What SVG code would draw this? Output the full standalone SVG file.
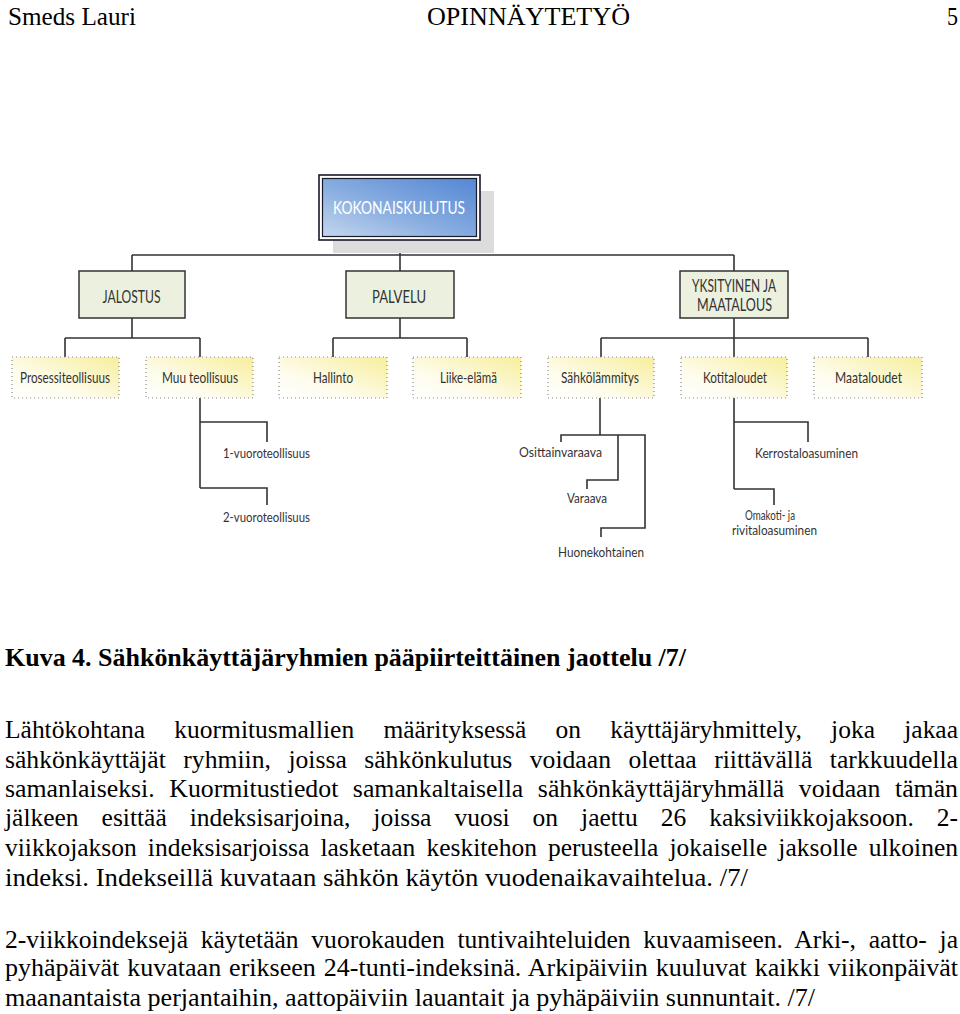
<svg xmlns="http://www.w3.org/2000/svg" width="960" height="1014" viewBox="0 0 960 1014">
<defs>
<linearGradient id="blueG" x1="0" y1="1" x2="1" y2="0">
<stop offset="0" stop-color="#c4d6ee"/>
<stop offset="0.45" stop-color="#88ade0"/>
<stop offset="1" stop-color="#5587d4"/>
</linearGradient>
<linearGradient id="yelG" x1="0" y1="1" x2="1" y2="0">
<stop offset="0" stop-color="#ffffff"/>
<stop offset="0.35" stop-color="#fefcec"/>
<stop offset="1" stop-color="#f7ee9c"/>
</linearGradient>
<style>
.doc{font-family:"Liberation Serif","Times New Roman",serif;font-size:25.5px;fill:#000}
.hd{font-size:25px}
.bold{font-weight:bold}
.lvl2{fill:#ebf1de;stroke:#333;stroke-width:1.5}
.leaf{fill:url(#yelG);stroke:#8a8a8a;stroke-width:1.2;stroke-dasharray:1 3}
.lbl{font-family:Lato,"Open Sans","Liberation Sans",sans-serif;fill:#333;text-anchor:middle}
.l2{font-size:16.5px}
.l3{font-size:15px}
.l4{font-size:14px}
.conn{fill:none;stroke:#333;stroke-width:1.6}
</style>
</defs>
<rect width="960" height="1014" fill="#fff"/>
<g id="header">
<text class="doc hd" x="8" y="25" textLength="128" lengthAdjust="spacingAndGlyphs">Smeds Lauri</text>
<text class="doc hd" x="427" y="25" textLength="203" lengthAdjust="spacingAndGlyphs">OPINNÄYTETYÖ</text>
<text class="doc hd" x="947" y="25" textLength="11" lengthAdjust="spacingAndGlyphs">5</text>
</g>
<g id="connectors">
<path class="conn" d="M400,240 V255 M132,255 H734 M132,255 V271 M400,255 V271 M734,255 V271"/>
<path class="conn" d="M132,318 V338 M65,338 H200 M65,338 V357 M200,338 V357"/>
<path class="conn" d="M400,318 V338 M333,338 H467 M333,338 V357 M467,338 V357"/>
<path class="conn" d="M734,318 V357 M601,338 H868 M601,338 V357 M868,338 V357"/>
<path class="conn" d="M200,398 V488 M200,422 H267 V442 M200,488 H267 V505"/>
<path class="conn" d="M600,398 V435 M561,442 V435 H645 V528 H601 V537 M618,435 V480 H587 V489"/>
<path class="conn" d="M734,398 V489 M734,422 H808 V442 M734,489 H774 V505"/>
</g>
<g id="kokonaiskulutus">
<rect x="333" y="191" width="161" height="62" fill="#dcdcdc"/>
<rect x="319" y="175" width="161" height="65" fill="#fff" stroke="#1a1a2a" stroke-width="1.6"/>
<rect x="322.5" y="178.5" width="154" height="58" fill="url(#blueG)" stroke="#1a1a2a" stroke-width="1.2"/>
<text x="399" y="213.5" font-family="Lato,'Open Sans','Liberation Sans',sans-serif" font-size="17.5" fill="#fff" text-anchor="middle" textLength="132" lengthAdjust="spacingAndGlyphs">KOKONAISKULUTUS</text>
</g>
<g id="jalostus">
<rect class="lvl2" x="79" y="271" width="106" height="47"/>
<text class="lbl l2" x="131.5" y="303" textLength="58" lengthAdjust="spacingAndGlyphs">JALOSTUS</text>
</g>
<g id="palvelu">
<rect class="lvl2" x="346" y="271" width="108" height="47"/>
<text class="lbl l2" x="399" y="303" textLength="54" lengthAdjust="spacingAndGlyphs">PALVELU</text>
</g>
<g id="yksityinen">
<rect class="lvl2" x="680" y="271" width="108" height="47"/>
<text class="lbl l2" x="734" y="292" textLength="84" lengthAdjust="spacingAndGlyphs">YKSITYINEN JA</text>
<text class="lbl l2" x="734.5" y="311" textLength="75" lengthAdjust="spacingAndGlyphs">MAATALOUS</text>
</g>
<g id="prosessiteollisuus">
<rect class="leaf" x="12" y="357" width="107" height="41"/>
<text class="lbl l3" x="65" y="383" textLength="90" lengthAdjust="spacingAndGlyphs">Prosessiteollisuus</text>
</g>
<g id="muu-teollisuus">
<rect class="leaf" x="146" y="357" width="107" height="41"/>
<text class="lbl l3" x="200" y="383" textLength="76" lengthAdjust="spacingAndGlyphs">Muu teollisuus</text>
</g>
<g id="hallinto">
<rect class="leaf" x="279" y="357" width="108" height="41"/>
<text class="lbl l3" x="333" y="383" textLength="40" lengthAdjust="spacingAndGlyphs">Hallinto</text>
</g>
<g id="liike-elama">
<rect class="leaf" x="413" y="357" width="108" height="41"/>
<text class="lbl l3" x="468.5" y="383" textLength="57" lengthAdjust="spacingAndGlyphs">Liike-elämä</text>
</g>
<g id="sahkolammitys">
<rect class="leaf" x="548" y="357" width="106" height="41"/>
<text class="lbl l3" x="600" y="383" textLength="78" lengthAdjust="spacingAndGlyphs">Sähkölämmitys</text>
</g>
<g id="kotitaloudet">
<rect class="leaf" x="681" y="357" width="106" height="41"/>
<text class="lbl l3" x="735" y="383" textLength="64" lengthAdjust="spacingAndGlyphs">Kotitaloudet</text>
</g>
<g id="maataloudet">
<rect class="leaf" x="814" y="357" width="108" height="41"/>
<text class="lbl l3" x="868.5" y="383" textLength="67" lengthAdjust="spacingAndGlyphs">Maataloudet</text>
</g>
<g id="vuoro1"><text class="lbl l4" x="266.5" y="458" textLength="87" lengthAdjust="spacingAndGlyphs">1-vuoroteollisuus</text></g>
<g id="vuoro2"><text class="lbl l4" x="266.5" y="522" textLength="87" lengthAdjust="spacingAndGlyphs">2-vuoroteollisuus</text></g>
<g id="osittainvaraava"><text class="lbl l4" x="560.5" y="457" textLength="83" lengthAdjust="spacingAndGlyphs">Osittainvaraava</text></g>
<g id="varaava"><text class="lbl l4" x="587" y="503" textLength="40" lengthAdjust="spacingAndGlyphs">Varaava</text></g>
<g id="huonekohtainen"><text class="lbl l4" x="601" y="557" textLength="86" lengthAdjust="spacingAndGlyphs">Huonekohtainen</text></g>
<g id="kerrostalo"><text class="lbl l4" x="806.5" y="458" textLength="103" lengthAdjust="spacingAndGlyphs">Kerrostaloasuminen</text></g>
<g id="omakoti">
<text class="lbl l4" x="770" y="520" textLength="50" lengthAdjust="spacingAndGlyphs">Omakoti- ja</text>
<text class="lbl l4" x="774.5" y="535" textLength="85" lengthAdjust="spacingAndGlyphs">rivitaloasuminen</text>
</g>
<g id="body">
<text class="doc bold" x="5" y="666" textLength="681" lengthAdjust="spacingAndGlyphs">Kuva 4. Sähkönkäyttäjäryhmien pääpiirteittäinen jaottelu /7/</text>
<text class="doc" x="5" y="738" word-spacing="22.9" textLength="953" lengthAdjust="spacingAndGlyphs">Lähtökohtana kuormitusmallien määrityksessä on käyttäjäryhmittely, joka jakaa</text>
<text class="doc" x="5" y="768" word-spacing="11" textLength="953" lengthAdjust="spacingAndGlyphs">sähkönkäyttäjät ryhmiin, joissa sähkönkulutus voidaan olettaa riittävällä tarkkuudella</text>
<text class="doc" x="5" y="797" word-spacing="8" textLength="953" lengthAdjust="spacingAndGlyphs">samanlaiseksi. Kuormitustiedot samankaltaisella sähkönkäyttäjäryhmällä voidaan tämän</text>
<text class="doc" x="5" y="826" word-spacing="16.6" textLength="953" lengthAdjust="spacingAndGlyphs">jälkeen esittää indeksisarjoina, joissa vuosi on jaettu 26 kaksiviikkojaksoon. 2-</text>
<text class="doc" x="5" y="856" word-spacing="4.7" textLength="953" lengthAdjust="spacingAndGlyphs">viikkojakson indeksisarjoissa lasketaan keskitehon perusteella jokaiselle jaksolle ulkoinen</text>
<text class="doc" x="5" y="886" textLength="743" lengthAdjust="spacingAndGlyphs">indeksi. Indekseillä kuvataan sähkön käytön vuodenaikavaihtelua. /7/</text>
<text class="doc" x="5" y="948" word-spacing="6.3" textLength="953" lengthAdjust="spacingAndGlyphs">2-viikkoindeksejä käytetään vuorokauden tuntivaihteluiden kuvaamiseen. Arki-, aatto- ja</text>
<text class="doc" x="5" y="976" word-spacing="1.4" textLength="953" lengthAdjust="spacingAndGlyphs">pyhäpäivät kuvataan erikseen 24-tunti-indeksinä. Arkipäiviin kuuluvat kaikki viikonpäivät</text>
<text class="doc" x="5" y="1006" textLength="810" lengthAdjust="spacingAndGlyphs">maanantaista perjantaihin, aattopäiviin lauantait ja pyhäpäiviin sunnuntait. /7/</text>
</g>
</svg>
